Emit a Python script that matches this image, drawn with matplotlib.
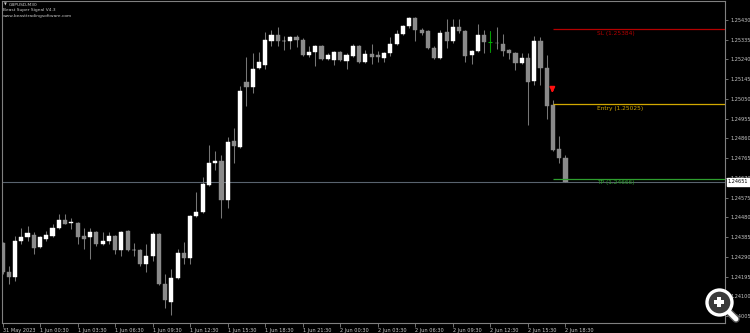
import matplotlib
matplotlib.use('Agg')
import matplotlib.pyplot as plt
import numpy as np

# GBPUSD M30 bars, 31 May 21:30 .. 2 Jun 18:30
opens = [1.24357, 1.24218, 1.24194, 1.24367, 1.24386, 1.24396, 1.24338, 1.24376, 1.24391, 1.24429,
         1.24468, 1.24453, 1.24453, 1.24391, 1.24386, 1.24410, 1.24352, 1.24367, 1.24391, 1.24323,
         1.24415, 1.24323, 1.24323, 1.24256, 1.24295, 1.24400, 1.24160, 1.24073, 1.24189, 1.24309,
         1.24285, 1.24487, 1.24506, 1.24636, 1.24743, 1.24752, 1.24564, 1.24848, 1.24819, 1.25132,
         1.25108, 1.25199, 1.25213, 1.25329, 1.25358, 1.25327, 1.25329, 1.25348, 1.25334, 1.25261,
         1.25276, 1.25305, 1.25242, 1.25237, 1.25276, 1.25233, 1.25257, 1.25305, 1.25228, 1.25266,
         1.25260, 1.25247, 1.25271, 1.25314, 1.25362, 1.25401, 1.25439, 1.25382, 1.25377, 1.25295,
         1.25247, 1.25372, 1.25329, 1.25396, 1.25377, 1.25261, 1.25281, 1.25358, 1.25324, 1.25319,
         1.25313, 1.25285, 1.25270, 1.25223, 1.25248, 1.25138, 1.25330, 1.25197, 1.25021, 1.24808,
         1.24767]
highs = [1.24361, 1.24247, 1.24392, 1.24428, 1.24439, 1.24409, 1.24391, 1.24416, 1.24447, 1.24495,
         1.24495, 1.24479, 1.24458, 1.24428, 1.24429, 1.24415, 1.24409, 1.24409, 1.24396, 1.24415,
         1.24420, 1.24359, 1.24328, 1.24351, 1.24412, 1.24405, 1.24207, 1.24231, 1.24327, 1.24361,
         1.24492, 1.24601, 1.24673, 1.24829, 1.24801, 1.24780, 1.24868, 1.24912, 1.25112, 1.25250,
         1.25270, 1.25274, 1.25372, 1.25380, 1.25396, 1.25351, 1.25353, 1.25356, 1.25343, 1.25305,
         1.25310, 1.25310, 1.25271, 1.25281, 1.25281, 1.25271, 1.25316, 1.25310, 1.25285, 1.25313,
         1.25279, 1.25276, 1.25348, 1.25382, 1.25406, 1.25444, 1.25444, 1.25391, 1.25382, 1.25305,
         1.25382, 1.25433, 1.25436, 1.25436, 1.25382, 1.25285, 1.25412, 1.25380, 1.25375, 1.25398,
         1.25362, 1.25290, 1.25276, 1.25273, 1.25270, 1.25353, 1.25349, 1.25261, 1.25045, 1.24872,
         1.24780]
lows = [1.24207, 1.24160, 1.24174, 1.24351, 1.24367, 1.24304, 1.24333, 1.24367, 1.24386, 1.24425,
        1.24447, 1.24425, 1.24351, 1.24327, 1.24279, 1.24342, 1.24347, 1.24351, 1.24304, 1.24296,
        1.24318, 1.24296, 1.24247, 1.24219, 1.24271, 1.24155, 1.24043, 1.24011, 1.24184, 1.24255,
        1.24255, 1.24481, 1.24501, 1.24631, 1.24708, 1.24479, 1.24524, 1.24741, 1.24814, 1.25018,
        1.25077, 1.25194, 1.25196, 1.25303, 1.25303, 1.25287, 1.25289, 1.25300, 1.25257, 1.25252,
        1.25207, 1.25237, 1.25237, 1.25215, 1.25233, 1.25196, 1.25252, 1.25223, 1.25223, 1.25220,
        1.25228, 1.25228, 1.25255, 1.25310, 1.25358, 1.25391, 1.25327, 1.25358, 1.25290, 1.25242,
        1.25242, 1.25295, 1.25319, 1.25367, 1.25228, 1.25220, 1.25276, 1.25273, 1.25276, 1.25289,
        1.25257, 1.25241, 1.25189, 1.25218, 1.24925, 1.25117, 1.25117, 1.24952, 1.24800, 1.24741,
        1.24651]
closes = [1.24218, 1.24194, 1.24367, 1.24386, 1.24405, 1.24333, 1.24386, 1.24396, 1.24429, 1.24468,
          1.24449, 1.24458, 1.24386, 1.24376, 1.24410, 1.24351, 1.24367, 1.24391, 1.24323, 1.24410,
          1.24323, 1.24325, 1.24256, 1.24295, 1.24400, 1.24160, 1.24083, 1.24189, 1.24309, 1.24285,
          1.24487, 1.24506, 1.24641, 1.24742, 1.24752, 1.24564, 1.24843, 1.24824, 1.25088, 1.25108,
          1.25194, 1.25228, 1.25334, 1.25358, 1.25329, 1.25328, 1.25348, 1.25334, 1.25261, 1.25274,
          1.25305, 1.25242, 1.25261, 1.25276, 1.25237, 1.25261, 1.25305, 1.25228, 1.25266, 1.25252,
          1.25252, 1.25271, 1.25314, 1.25362, 1.25401, 1.25439, 1.25382, 1.25367, 1.25295, 1.25247,
          1.25367, 1.25329, 1.25396, 1.25377, 1.25257, 1.25281, 1.25358, 1.25324, 1.25324, 1.25317,
          1.25282, 1.25270, 1.25221, 1.25246, 1.25133, 1.25330, 1.25197, 1.25018, 1.24804, 1.24765,
          1.24651]

sl_price = 1.25384
entry_price = 1.25025
tp_price = 1.24666
last_price = 1.24651
signal_bar = 88

y_ticks = [1.25430, 1.25335, 1.25240, 1.25145, 1.25050, 1.24955, 1.24860, 1.24765,
           1.24670, 1.24575, 1.24480, 1.24385, 1.24290, 1.24195, 1.24100, 1.24005]
x_tick_pos = list(range(0, 91, 6))
x_tick_labels = ['31 May 2023', '1 Jun 00:30', '1 Jun 03:30', '1 Jun 06:30', '1 Jun 09:30',
                 '1 Jun 12:30', '1 Jun 15:30', '1 Jun 18:30', '1 Jun 21:30', '2 Jun 00:30',
                 '2 Jun 03:30', '2 Jun 06:30', '2 Jun 09:30', '2 Jun 12:30', '2 Jun 15:30',
                 '2 Jun 18:30']

o = np.array(opens)
h = np.array(highs)
l = np.array(lows)
c = np.array(closes)
x = np.arange(len(o))

fig = plt.figure(figsize=(7.5, 3.33), dpi=100, facecolor='black')
ax = fig.add_axes([2 / 750, 10 / 333, 723 / 750, 322 / 333], facecolor='black')

txt = '#c8c8c8'
frame = '#808080'

# wicks
ax.vlines(x, l, h, color='#767676', lw=0.75, zorder=2)

# bodies
bw = 0.66
up = c > o
dn = c < o
eq = c == o
ax.bar(x[up], (c - o)[up], bottom=o[up], width=bw, color='white', edgecolor='white',
       linewidth=0.3, zorder=3)
ax.bar(x[dn], (o - c)[dn], bottom=c[dn], width=bw, color='#8a8a8a', edgecolor='#8a8a8a',
       linewidth=0.3, zorder=3)
ax.hlines(c[eq], x[eq] - bw / 2, x[eq] + bw / 2, color='#00b000', lw=0.8, zorder=3)
ax.vlines(x[eq], l[eq], h[eq], color='#00a000', lw=0.75, zorder=2)

# current price line
ax.axhline(last_price, color='#59636e', lw=0.8, zorder=1)

# signal levels
x_end = 115.5
ax.hlines(sl_price, signal_bar, x_end, color='#b40000', lw=0.9, zorder=4)
ax.hlines(entry_price, signal_bar, x_end, color='#d2a800', lw=0.9, zorder=4)
ax.hlines(tp_price, signal_bar, x_end, color='#2e9e2e', lw=0.9, zorder=4)
lab_x = 95.0
ax.text(lab_x, sl_price - 0.00019, 'SL (1.25384)', color='#b40000', fontsize=4.2,
        va='center', ha='left')
ax.text(lab_x, entry_price - 0.00019, 'Entry (1.25025)', color='#d2a800', fontsize=4.2,
        va='center', ha='left')
ax.text(lab_x, tp_price - 0.00019, 'TP (1.24666)', color='#2e9e2e', fontsize=4.2,
        va='center', ha='left')

# sell arrow
ax.annotate('', xy=(signal_bar - 0.1, 1.25066), xytext=(signal_bar - 0.1, 1.25112),
            arrowprops=dict(arrowstyle='-|>', color='#ff1010', lw=1.4,
                            mutation_scale=7), zorder=5)

ax.set_xlim(-0.08, 115.5)
ax.set_ylim(1.23972, 1.25521)

ax.yaxis.tick_right()
ax.set_yticks(y_ticks)
ax.set_yticklabels(['%.5f' % v for v in y_ticks])
ax.tick_params(axis='y', colors=frame, labelcolor=txt, labelsize=3.6, length=2.5,
               width=0.6, pad=1.2, direction='out')
ax.set_xticks(x_tick_pos)
ax.set_xticklabels(x_tick_labels, ha='left')
ax.tick_params(axis='x', colors=frame, labelcolor=txt, labelsize=3.6, length=3,
               width=0.6, pad=0.6, direction='out')
for s in ax.spines.values():
    s.set_color(frame)
    s.set_linewidth(0.8)

# current price box on the scale
ax.text(1.004, last_price, '%.5f' % last_price, transform=ax.get_yaxis_transform(),
        fontsize=3.6, color='black', va='center', ha='left', zorder=6, clip_on=False,
        bbox=dict(boxstyle='square,pad=0.25', fc='white', ec='white'))

# header
fig.text(3.5 / 750, 1 - 5 / 333, '\u25bc', color=txt, fontsize=2.6, va='center', ha='left')
fig.text(9 / 750, 1 - 5 / 333, 'GBPUSD,M30', color=txt, fontsize=3.2, va='center', ha='left')
fig.text(3 / 750, 1 - 10.5 / 333, 'Beast Super Signal V4.3', color=txt, fontsize=3.2,
         va='center', ha='left')
fig.text(3 / 750, 1 - 15.5 / 333, 'www.beasttradingsoftware.com', color=txt, fontsize=3.2,
         va='center', ha='left')

# zoom badge overlay in the corner
cx, cy = 719 / 750, 1 - 302 / 333
hx = [cx + 8 / 750, cx + 17 / 750]
hy = [cy - 8 / 333, cy - 17 / 333]
fig.add_artist(plt.Line2D(hx, hy, transform=fig.transFigure, color='#555555', lw=5.5,
                          solid_capstyle='round'))
fig.add_artist(plt.Line2D(hx, hy, transform=fig.transFigure, color='white', lw=3.5,
                          solid_capstyle='round'))
fig.add_artist(plt.Line2D([cx], [cy], transform=fig.transFigure, marker='o', markersize=18,
                          markerfacecolor='#3a3a3a', markeredgecolor='white',
                          markeredgewidth=2.4))
fig.add_artist(plt.Line2D([cx], [cy], transform=fig.transFigure, marker='P', markersize=7.5,
                          markerfacecolor='white', markeredgecolor='white',
                          markeredgewidth=0))

fig.savefig('out.png', dpi=100, facecolor='black')
